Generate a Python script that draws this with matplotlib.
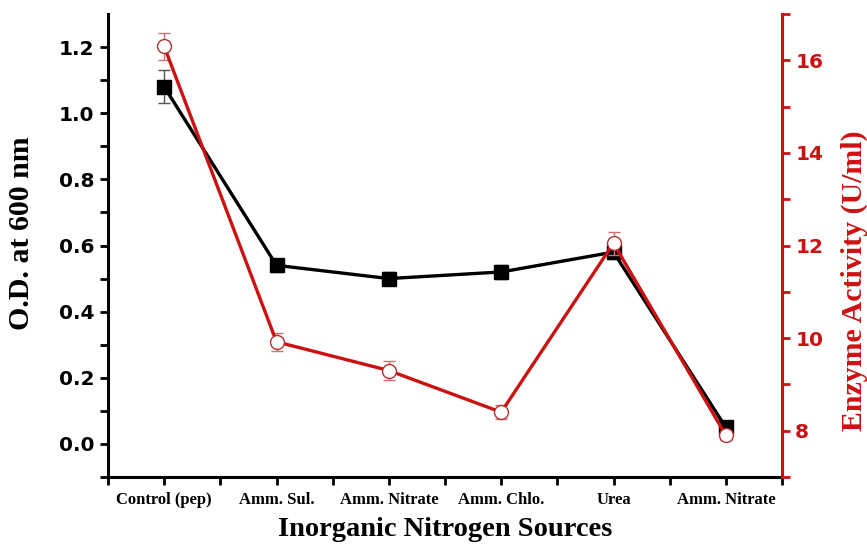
import matplotlib
matplotlib.use("Agg")
import matplotlib.pyplot as plt
import numpy as np

categories = ["Control (pep)", "Amm. Sul.", "Amm. Nitrate", "Amm. Chlo.", "Urea", "Amm. Nitrate"]
od_values = [1.08, 0.54, 0.50, 0.52, 0.58, 0.05]
od_err = [0.05, 0.02, 0.02, 0.02, 0.02, 0.01]
enzyme_values = [16.3, 9.92, 9.3, 8.4, 12.05, 7.9]
enzyme_err = [0.3, 0.2, 0.2, 0.15, 0.25, 0.1]

red = "#cc1111"
fig = plt.figure(figsize=(8.67, 5.45), dpi=100)
ax = fig.add_axes([108/867, 1-477/545, (782-108)/867, (477-14)/545])
x = np.arange(len(categories))

ax.errorbar(x, od_values, yerr=od_err, color="black", lw=2.4, marker="s", ms=10,
            ecolor="#555555", elinewidth=1, capsize=4, capthick=1, zorder=3)
ax.set_xlim(-0.5, 5.5)
ax.set_ylim(-0.1, 1.3)
ax.set_yticks([0.0, 0.2, 0.4, 0.6, 0.8, 1.0, 1.2])
ax.set_yticks(np.arange(-0.1, 1.3, 0.2), minor=True)
ax.set_yticklabels(["0.0", "0.2", "0.4", "0.6", "0.8", "1.0", "1.2"],
                   fontfamily="DejaVu Sans", fontweight="bold", fontsize=14.5)
ax.set_xticks(x)
ax.set_xticks(np.arange(-0.5, 5.6, 1.0), minor=True)
ax.set_xticklabels(categories, fontfamily="Liberation Serif", fontweight="bold", fontsize=12)
ax.tick_params(axis="both", which="both", direction="out", length=6, width=2)
ax.tick_params(axis="x", which="major", pad=5)
ax.tick_params(axis="y", which="major", pad=4)
ax.spines["top"].set_visible(False)
ax.spines["right"].set_visible(False)
for s in ["left", "bottom"]:
    ax.spines[s].set_linewidth(2.2)
ax.set_xlabel("Inorganic Nitrogen Sources", fontfamily="Liberation Serif", fontweight="bold",
              fontsize=20.5)
ax.xaxis.set_label_coords(0.501, -0.114)
ax.xaxis.label.set_va("center")
ax.set_ylabel("O.D. at 600 nm", fontfamily="Liberation Serif", fontweight="bold", fontsize=21.5)
ax.yaxis.set_label_coords(-0.128, 0.527)
ax.yaxis.label.set_va("center")

ax2 = ax.twinx()
ax2.errorbar(x, enzyme_values, yerr=enzyme_err, color=red, lw=2.4, marker="o", ms=10,
             mfc="white", mec="#b03030", mew=1, ecolor="#d07070", elinewidth=1, capsize=4,
             capthick=1, zorder=3)
ax2.set_ylim(7, 17)
ax2.set_yticks([8, 10, 12, 14, 16])
ax2.set_yticks([7, 9, 11, 13, 15, 17], minor=True)
ax2.set_yticklabels(["8", "10", "12", "14", "16"], fontfamily="DejaVu Sans",
                    fontweight="bold", fontsize=14.5, color=red)
ax2.tick_params(axis="y", which="both", direction="out", length=6, width=2, colors=red)
ax2.spines["top"].set_visible(False)
ax2.spines["left"].set_visible(False)
ax2.spines["bottom"].set_visible(False)
ax2.spines["right"].set_color(red)
ax2.spines["right"].set_linewidth(2.2)
ax2.set_ylabel("Enzyme Activity (U/ml)", fontfamily="Liberation Serif", fontweight="bold",
               fontsize=21.5, color=red)
ax2.yaxis.set_label_coords(1.108, 0.423)
ax2.yaxis.label.set_va("center")

fig.savefig("out.png", dpi=100)
